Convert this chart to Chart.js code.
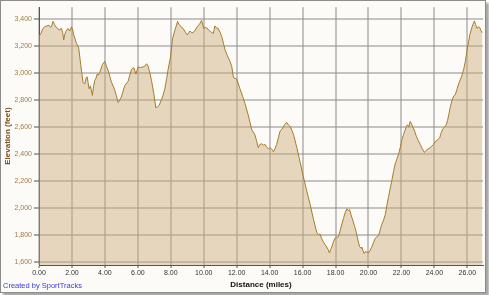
<!DOCTYPE html>
<html>
<head>
<meta charset="utf-8">
<script src="https://cdn.jsdelivr.net/npm/chart.js@4"></script>
<style>
  body { margin: 0; background: #fff; }
  .frame {
    position: absolute; left: 0; top: 0;
    width: 484px; height: 291px;
    border: 1px solid #8c8c8c;
    background: #fcfbf7;
    box-shadow: 3px 3px 2px rgba(0,0,0,0.35);
  }
  .credit {
    position: absolute; left: 2px; top: 280px;
    font: 7.5px "Liberation Sans", Arial, sans-serif;
    color: #3a3ae0;
  }
</style>
</head>
<body>
<div class="frame">
  <canvas id="chart" width="484" height="291"></canvas>
  <div class="credit">Created by SportTracks</div>
</div>
<script>
// distance (miles) and elevation (feet)
const dist = [0.00, 0.10, 0.24, 0.35, 0.45, 0.61, 0.70, 0.75, 0.85, 0.95, 1.02, 1.12, 1.22, 1.36, 1.44, 1.50, 1.56, 1.62, 1.76, 1.87,
  1.97, 2.05, 2.11, 2.27, 2.41, 2.53, 2.60, 2.67, 2.78, 2.86, 2.92, 2.98, 3.04, 3.12, 3.24, 3.30, 3.38, 3.45, 3.53, 3.60,
  3.69, 3.85, 3.99, 4.10, 4.20, 4.30, 4.40, 4.50, 4.60, 4.70, 4.80, 4.90, 5.00, 5.10, 5.21, 5.41, 5.50, 5.62, 5.76, 5.88,
  6.02, 6.15, 6.32, 6.45, 6.53, 6.63, 6.73, 6.83, 6.97, 7.09, 7.20, 7.30, 7.40, 7.50, 7.64, 7.75, 7.84, 7.99, 8.11, 8.25,
  8.33, 8.41, 8.48, 8.55, 8.65, 8.75, 8.88, 9.00, 9.16, 9.26, 9.36, 9.48, 9.60, 9.75, 9.87, 10.00, 10.10, 10.20, 10.30, 10.42,
  10.58, 10.68, 10.78, 10.88, 11.00, 11.09, 11.20, 11.29, 11.40, 11.49, 11.60, 11.70, 11.80, 11.90, 12.00, 12.20, 12.36, 12.50, 12.70, 12.91,
  13.10, 13.20, 13.31, 13.40, 13.52, 13.62, 13.72, 13.82, 13.92, 14.03, 14.13, 14.23, 14.33, 14.43, 14.53, 14.63, 14.72, 14.80, 14.92, 15.04,
  15.14, 15.24, 15.35, 15.45, 15.65, 15.85, 16.05, 16.26, 16.46, 16.66, 16.86, 16.96, 17.06, 17.16, 17.27, 17.37, 17.47, 17.55, 17.63, 17.70,
  17.77, 17.88, 17.98, 18.08, 18.18, 18.28, 18.38, 18.48, 18.58, 18.69, 18.77, 18.85, 18.95, 19.06, 19.16, 19.26, 19.36, 19.46, 19.55, 19.60,
  19.67, 19.74, 19.82, 19.90, 20.00, 20.10, 20.20, 20.30, 20.40, 20.50, 20.61, 20.71, 20.81, 20.92, 21.02, 21.12, 21.22, 21.32, 21.42, 21.52,
  21.62, 21.73, 21.83, 21.93, 22.03, 22.13, 22.23, 22.30, 22.37, 22.45, 22.53, 22.62, 22.70, 22.80, 22.90, 23.02, 23.14, 23.26, 23.39, 23.49,
  23.59, 23.72, 23.85, 23.95, 24.05, 24.20, 24.32, 24.42, 24.52, 24.62, 24.72, 24.80, 24.87, 24.97, 25.07, 25.17, 25.27, 25.37, 25.47, 25.57,
  25.68, 25.78, 25.88, 25.98, 26.08, 26.15, 26.23, 26.33, 26.43, 26.50, 26.59, 26.67, 26.75, 26.83, 26.90];
const elev = [3275, 3290, 3332, 3345, 3351, 3356, 3340, 3344, 3385, 3360, 3344, 3335, 3320, 3333, 3300, 3247, 3285, 3308, 3332, 3313,
  3344, 3320, 3284, 3223, 3187, 3065, 3000, 2932, 2920, 2965, 2973, 2930, 2884, 2906, 2835, 2890, 2944, 2960, 2993, 2985,
  3005, 3065, 3088, 3050, 3017, 2975, 2932, 2905, 2872, 2830, 2782, 2800, 2823, 2865, 2908, 2940, 2980, 3029, 3041, 2993,
  3046, 3042, 3046, 3055, 3070, 3050, 3000, 2944, 2847, 2743, 2750, 2762, 2795, 2823, 2884, 2960, 3029, 3126, 3259, 3320,
  3350, 3385, 3365, 3356, 3340, 3332, 3305, 3284, 3313, 3300, 3301, 3320, 3344, 3365, 3393, 3332, 3340, 3335, 3320, 3308,
  3295, 3351, 3335, 3332, 3300, 3272, 3220, 3175, 3140, 3114, 3085, 3050, 2969, 2962, 2956, 2884, 2828, 2775, 2690, 2580,
  2544, 2500, 2447, 2470, 2476, 2465, 2471, 2450, 2440, 2445, 2435, 2416, 2440, 2471, 2520, 2569, 2580, 2593, 2620, 2634,
  2615, 2605, 2575, 2544, 2447, 2338, 2229, 2120, 2023, 1914, 1817, 1800, 1805, 1770, 1744, 1725, 1708, 1690, 1664, 1690,
  1708, 1750, 1776, 1782, 1785, 1830, 1878, 1920, 1963, 1992, 1980, 1987, 1945, 1902, 1860, 1817, 1760, 1710, 1700, 1708,
  1680, 1660, 1675, 1672, 1665, 1685, 1708, 1740, 1769, 1785, 1793, 1835, 1878, 1910, 1950, 2020, 2084, 2145, 2205, 2270,
  2326, 2365, 2399, 2450, 2508, 2545, 2580, 2605, 2617, 2600, 2641, 2620, 2598, 2570, 2532, 2500, 2471, 2440, 2411, 2425,
  2435, 2445, 2459, 2470, 2491, 2505, 2520, 2560, 2588, 2600, 2617, 2650, 2690, 2750, 2799, 2830, 2840, 2880, 2920, 2950,
  2985, 3030, 3089, 3170, 3235, 3285, 3320, 3360, 3388, 3360, 3332, 3345, 3339, 3315, 3300];

const xRange = [0, 26.95];
const yRange = [1575, 3490];

const points = dist.map((d, i) => ({ x: d, y: elev[i] }));
const tickFont = { family: '"Liberation Sans", Arial, sans-serif', size: 7 };
const titleFont = { family: '"Liberation Sans", Arial, sans-serif', size: 8, weight: 'bold' };
const gridColor = 'rgba(140,140,140,0.5)';

new Chart(document.getElementById('chart'), {
  type: 'line',
  data: {
    datasets: [{
      data: points,
      borderColor: '#a67c2e',
      borderWidth: 1,
      backgroundColor: 'rgba(201,169,117,0.45)',
      fill: 'start',
      pointRadius: 0,
      tension: 0
    }]
  },
  options: {
    responsive: false,
    animation: false,
    layout: { padding: { top: 1, right: 2, left: 0, bottom: 0 } },
    plugins: { legend: { display: false }, tooltip: { enabled: false } },
    scales: {
      x: {
        type: 'linear',
        min: xRange[0],
        max: xRange[1],
        afterFit: s => { s.height = 27; },
        border: { color: '#555', width: 1 },
        grid: { color: gridColor, lineWidth: 2, tickLength: 3, tickColor: '#555', tickWidth: 1 },
        ticks: {
          stepSize: 2, includeBounds: false, maxRotation: 0, autoSkip: false,
          padding: 1, color: '#333', font: tickFont,
          callback: v => v.toFixed(2)
        },
        title: { display: true, text: 'Distance (miles)', color: '#111', font: titleFont, padding: { top: 0, bottom: 2 } }
      },
      y: {
        min: yRange[0],
        max: yRange[1],
        afterFit: s => { s.width = 38; },
        border: { color: '#555', width: 1 },
        grid: { color: gridColor, lineWidth: 2, tickLength: 5, tickColor: '#555', tickWidth: 1 },
        ticks: {
          stepSize: 200, includeBounds: false,
          padding: 2, color: '#a07c45', font: tickFont,
          callback: v => v.toLocaleString('en-US')
        },
        title: { display: true, text: 'Elevation (feet)', color: '#7a531c', font: titleFont, padding: { top: 2, bottom: 0 } }
      }
    }
  }
});
</script>
</body>
</html>
